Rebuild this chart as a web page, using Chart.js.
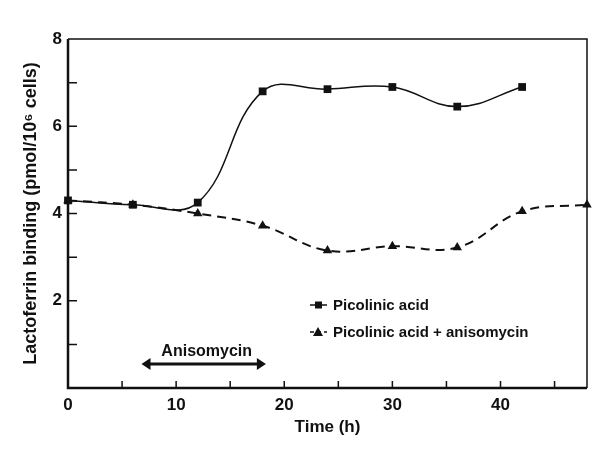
<!DOCTYPE html>
<html>
<head>
<meta charset="utf-8">
<script src="https://cdn.jsdelivr.net/npm/chart.js@4.4.0/dist/chart.umd.min.js"></script>
<style>
  html, body { margin: 0; padding: 0; background: #fff; }
</style>
</head>
<body>
<canvas id="lactoferrin" width="599" height="455"></canvas>
<script>
/** LACTOFERRIN BINDING vs TIME **/

var hours = [0, 6, 12, 18, 24, 30, 36, 42];
var picolinic = [4.3, 4.2, 4.25, 6.8, 6.85, 6.9, 6.45, 6.9];

var hoursAniso = [0, 6, 12, 18, 24, 30, 36, 42, 48];
var picolinicAniso = [4.3, 4.2, 4.0, 3.72, 3.15, 3.25, 3.22, 4.05, 4.2];

var xTickLabels = [0, 10, 20, 30, 40];
var yTickLabels = [2, 4, 6, 8];

// anisomycin exposure window (h) and where the arrow sits on the y scale
var anisoSpan = [6.8, 18.3];
var anisoLevel = 0.55;

var seriesNames = ['Picolinic acid', 'Picolinic acid + anisomycin'];

var ink = '#111';
var font = '"Liberation Sans", Arial, sans-serif';

function toPoints(xs, ys) {
    return xs.map(function (x, i) { return { x: x, y: ys[i] }; });
}

// box, inward ticks, legend and the anisomycin arrow
var framePlugin = {
    id: 'frame',
    beforeDatasetsDraw: function (chart) {
        var ctx = chart.ctx, a = chart.chartArea;
        var xs = chart.scales.x, ys = chart.scales.y;
        ctx.save();
        ctx.strokeStyle = ink;
        // top + right
        ctx.lineWidth = 1.5;
        ctx.beginPath();
        ctx.moveTo(a.left, a.top); ctx.lineTo(a.right, a.top); ctx.lineTo(a.right, a.bottom);
        ctx.stroke();
        // left + bottom are heavier
        ctx.lineWidth = 2.5;
        ctx.beginPath();
        ctx.moveTo(a.left, a.top); ctx.lineTo(a.left, a.bottom); ctx.lineTo(a.right, a.bottom);
        ctx.stroke();
        ctx.lineWidth = 1.5;
        ctx.beginPath();
        xs.ticks.forEach(function (t) {
            if (t.value <= xs.min || t.value >= xs.max) return;
            var px = xs.getPixelForValue(t.value);
            ctx.moveTo(px, a.bottom); ctx.lineTo(px, a.bottom - 7);
        });
        ys.ticks.forEach(function (t) {
            if (t.value <= ys.min || t.value >= ys.max) return;
            var py = ys.getPixelForValue(t.value);
            ctx.moveTo(a.left, py); ctx.lineTo(a.left + 9, py);
        });
        ctx.stroke();
        ctx.restore();
    },
    afterDraw: function (chart) {
        var ctx = chart.ctx;
        var xs = chart.scales.x, ys = chart.scales.y;
        ctx.save();
        ctx.fillStyle = ink;
        ctx.strokeStyle = ink;

        // anisomycin arrow
        var x0 = xs.getPixelForValue(anisoSpan[0]);
        var x1 = xs.getPixelForValue(anisoSpan[1]);
        var ay = ys.getPixelForValue(anisoLevel);
        ctx.lineWidth = 3;
        ctx.beginPath();
        ctx.moveTo(x0 + 6, ay); ctx.lineTo(x1 - 6, ay);
        ctx.stroke();
        [[x0, 1], [x1, -1]].forEach(function (h) {
            ctx.beginPath();
            ctx.moveTo(h[0], ay);
            ctx.lineTo(h[0] + h[1] * 9, ay - 6);
            ctx.lineTo(h[0] + h[1] * 9, ay + 6);
            ctx.closePath();
            ctx.fill();
        });
        ctx.font = 'bold 16px ' + font;
        ctx.textAlign = 'center';
        ctx.textBaseline = 'middle';
        ctx.fillText('Anisomycin', (x0 + x1) / 2 + 3, ay - 12);

        // legend inside the plot
        var lx = 310, rows = [305, 332];
        ctx.font = 'bold 15px ' + font;
        ctx.textAlign = 'left';
        rows.forEach(function (ly, i) {
            ctx.lineWidth = 1.5;
            ctx.setLineDash(i === 0 ? [] : [4, 3]);
            ctx.beginPath();
            ctx.moveTo(lx, ly); ctx.lineTo(lx + 17, ly);
            ctx.stroke();
            ctx.setLineDash([]);
            ctx.beginPath();
            if (i === 0) {
                ctx.rect(lx + 5, ly - 3.5, 7, 7);
            } else {
                ctx.moveTo(lx + 8, ly - 5);
                ctx.lineTo(lx + 13, ly + 4);
                ctx.lineTo(lx + 3, ly + 4);
                ctx.closePath();
            }
            ctx.fill();
            ctx.fillText(seriesNames[i], lx + 23, ly + 1);
        });
        ctx.restore();
    }
};

var canvas = document.getElementById('lactoferrin');

var lactoferrinChart = new Chart(canvas, {
    type: 'line',
    data: {
        datasets: [{
            label: seriesNames[0],
            data: toPoints(hours, picolinic),
            borderColor: ink,
            borderWidth: 1.5,
            tension: 0.4,
            pointStyle: 'rect',
            pointRadius: 5.5,
            pointBackgroundColor: ink,
            pointBorderColor: ink,
            pointBorderWidth: 0,
            clip: false
        }, {
            label: seriesNames[1],
            data: toPoints(hoursAniso, picolinicAniso),
            borderColor: ink,
            borderWidth: 2,
            borderDash: [9, 6],
            tension: 0.4,
            pointStyle: 'triangle',
            pointRadius: 5.5,
            pointBackgroundColor: ink,
            pointBorderColor: ink,
            pointBorderWidth: 0,
            clip: false
        }]
    },
    options: {
        responsive: false,
        animation: false,
        devicePixelRatio: 1,
        layout: { padding: { left: 0, top: 39, right: 12, bottom: 0 } },
        plugins: {
            legend: { display: false },
            tooltip: { enabled: false }
        },
        scales: {
            x: {
                type: 'linear',
                min: 0,
                max: 48,
                border: { display: false },
                grid: { display: false, drawTicks: false },
                ticks: {
                    stepSize: 5,
                    padding: 7,
                    color: ink,
                    font: { family: font, size: 17, weight: 'bold' },
                    maxRotation: 0,
                    autoSkip: false,
                    callback: function (v) { return xTickLabels.indexOf(v) >= 0 ? String(v) : ''; }
                },
                title: {
                    display: true,
                    text: 'Time (h)',
                    color: ink,
                    font: { family: font, size: 17, weight: 'bold' },
                    padding: { top: 0, bottom: 17 }
                },
                afterFit: function (scale) { scale.height = 67; }
            },
            y: {
                min: 0,
                max: 8,
                border: { display: false },
                grid: { display: false, drawTicks: false },
                ticks: {
                    stepSize: 1,
                    padding: 6,
                    color: ink,
                    font: { family: font, size: 17, weight: 'bold' },
                    autoSkip: false,
                    callback: function (v) { return yTickLabels.indexOf(v) >= 0 ? String(v) : ''; }
                },
                title: {
                    display: true,
                    text: 'Lactoferrin binding (pmol/10\u2076 cells)',
                    color: ink,
                    font: { family: font, size: 18, weight: 'bold' },
                    padding: { top: 20, bottom: 0 }
                },
                afterFit: function (scale) { scale.width = 68; }
            }
        }
    },
    plugins: [framePlugin]
});
</script>
</body>
</html>
